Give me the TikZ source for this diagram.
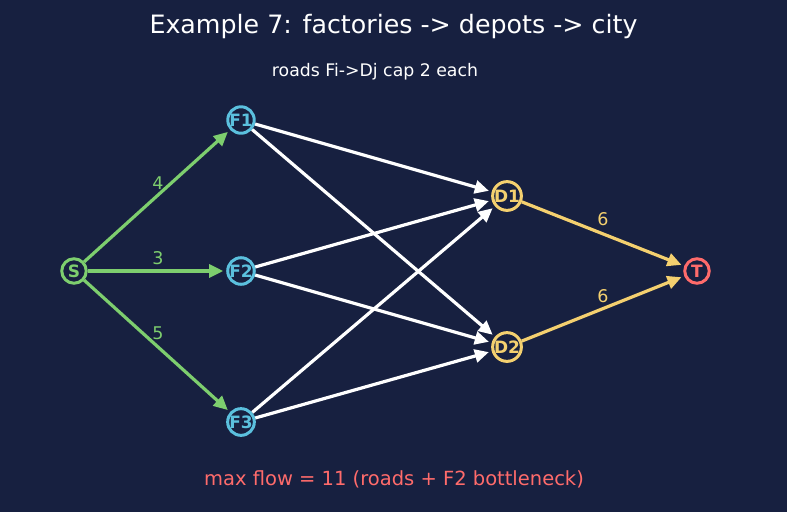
\documentclass[tikz,border=0pt]{standalone}
\usepackage{fontspec}
\setmainfont{DejaVu Sans}
\usetikzlibrary{arrows.meta}
\definecolor{bg}{HTML}{172040}
\definecolor{cgreen}{HTML}{7DCE6E}
\definecolor{cblue}{HTML}{5BC0DE}
\definecolor{cyellow}{HTML}{F4D06F}
\definecolor{cred}{HTML}{FF6B6B}
\tikzset{
  vtx/.style={circle, draw=#1, text=#1, line width=3pt, fill=bg, minimum size=24.5pt, inner sep=0pt,
    font=\bfseries\fontsize{17}{17}\selectfont},
  flow/.style={draw=#1, line width=3.2pt, -{Triangle[length=14pt,width=13pt]}, shorten >=3pt, shorten <=0pt},
  lbl/.style={text=#1, font=\fontsize{17.5}{17.5}\selectfont}
}
\begin{document}
\begin{tikzpicture}[x=1pt,y=-1pt]
\fill[bg] (0,0) rectangle (787,512);
\useasboundingbox (0,0) rectangle (787,512);
\node[text=white, font=\fontsize{25.3}{25.3}\selectfont] (title) at (393.5,27) {Example 7: factories -> depots -> city};
\node[text=white, font=\fontsize{17.3}{17.3}\selectfont] (sub) at (375,72) {roads Fi->Dj cap 2 each};
\node[text=cred, font=\fontsize{19.5}{19.5}\selectfont] (foot) at (394,479) {max flow = 11 (roads + F2 bottleneck)};

\node[vtx=cgreen] (S) at (74,271) {S};
\node[vtx=cblue] (F1) at (241,120) {F1};
\node[vtx=cblue] (F2) at (241,271) {F2};
\node[vtx=cblue] (F3) at (241,422) {F3};
\node[vtx=cyellow] (D1) at (507,196) {D1};
\node[vtx=cyellow] (D2) at (507,347) {D2};
\node[vtx=cred] (T) at (697,271) {T};

\draw[flow=cgreen] (S) -- (F1);
\draw[flow=cgreen] (S) -- (F2);
\draw[flow=cgreen] (S) -- (F3);
\draw[flow=white] (F1) -- (D1);
\draw[flow=white] (F1) -- (D2);
\draw[flow=white] (F2) -- (D1);
\draw[flow=white] (F2) -- (D2);
\draw[flow=white] (F3) -- (D1);
\draw[flow=white] (F3) -- (D2);
\draw[flow=cyellow] (D1) -- (T);
\draw[flow=cyellow] (D2) -- (T);

\node[lbl=cgreen] (l1) at (158,183) {4};
\node[lbl=cgreen] (l2) at (158,258) {3};
\node[lbl=cgreen] (l3) at (158,333) {5};
\node[lbl=cyellow] (l4) at (603,219) {6};
\node[lbl=cyellow] (l5) at (603,296) {6};
\end{tikzpicture}
\end{document}
